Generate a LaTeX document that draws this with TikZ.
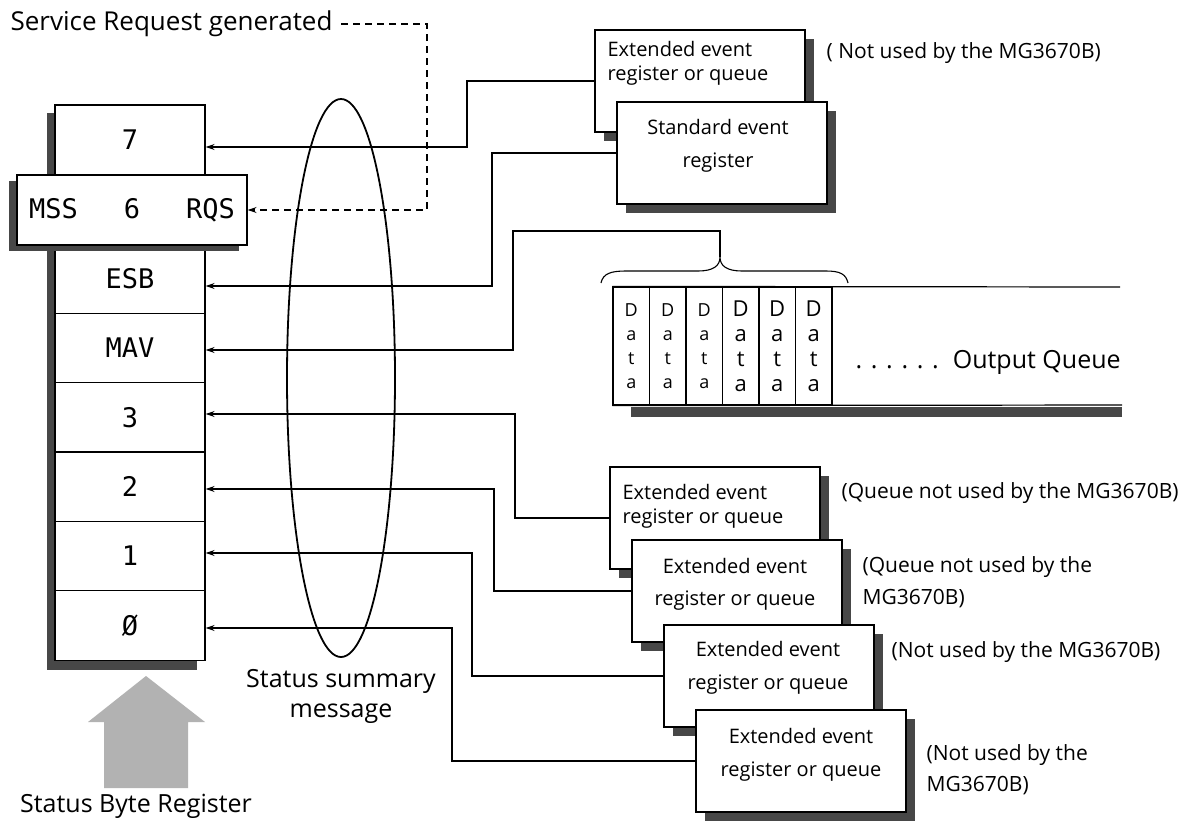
\documentclass[tikz,border=0pt]{standalone}
\usepackage{fontspec}
\setmainfont{Open Sans}
\newfontfamily\monof{DejaVu Sans Mono}
\usetikzlibrary{arrows.meta,shapes.geometric,shadows}
\begin{document}
\begin{tikzpicture}[x=1pt,y=-1pt,line width=1.2pt,
  cell/.style={draw,fill=white,line width=1.3pt,minimum width=150pt,minimum height=69.4pt,inner sep=0pt,font=\monof\fontsize{27}{30}\selectfont},
  ebox/.style={draw,fill=white,line width=1.3pt,minimum width=210pt,minimum height=102pt,inner sep=0pt,
     drop shadow={shadow xshift=9pt,shadow yshift=-9pt,fill=black!72,opacity=1}},
  etext/.style={font=\fontsize{20}{24}\selectfont,inner sep=0pt},
  shad/.style={fill=black!72,draw=none},
  arr/.style={-{Stealth[length=9pt,width=6pt,open]}},
  lab/.style={font=\fontsize{21}{32}\selectfont,align=left,inner sep=0pt,anchor=west},
  big/.style={font=\fontsize{25}{30}\selectfont,inner sep=0pt},
  dcell/.style={draw,fill=white,minimum width=36.5pt,minimum height=118pt,inner sep=0pt,align=center},
]
\useasboundingbox (0,0) rectangle (1186,820);
\fill[white] (0,0) rectangle (1186,820);

% ---- status byte register column
\fill[shad] (47,113) rectangle (197,670);
\node[cell] (r7)  at (130,139.7) {7};
\node[cell] (r6)  at (130,209.1) {};
\node[cell] (esb) at (130,278.5) {ESB};
\node[cell] (mav) at (130,347.9) {MAV};
\node[cell] (r3)  at (130,417.3) {3};
\node[cell] (r2)  at (130,486.7) {2};
\node[cell] (r1)  at (130,556.1) {1};
\node[cell] (r0)  at (130,625.5) {Ø};
\node[draw,fill=white,line width=1.3pt,minimum width=230pt,minimum height=70pt,inner sep=0pt,
  text width=206pt,font=\monof\fontsize{27}{30}\selectfont,
  drop shadow={shadow xshift=-8pt,shadow yshift=-6pt,fill=black!72,opacity=1}]
  (mss) at (132,210) {MSS\hfill 6\hfill RQS};

% ---- labels
\node[big,anchor=west,font=\fontsize{26}{30}\selectfont] (srg) at (10,24) {Service Request generated};
\node[big] (sbr) at (136,806) {Status Byte Register};
\node[big,align=center] (ssm) at (341,696) {Status summary\\message};

% ---- hatched arrow
\fill[black!30] (146,676) -- (205,722) -- (188,722) -- (188,788) -- (104,788) -- (104,722) -- (88,722) -- cycle;

% ---- summary ellipse
\node[draw,ellipse,line width=1.8pt,minimum width=108pt,minimum height=558pt,inner sep=0pt] (ell) at (341,378) {};

% ---- service request dashed line
\draw[arr,dash pattern=on 7pt off 5pt] (srg.east) ++(8,0) -| (427,210) -- (mss.east);

% ---- register boxes
\node[ebox] (e0) at (700,81) {};
\node[etext,anchor=west,align=left] (e0t) at (607,63) {Extended event\\register or queue};
\node[ebox] (std) at (722,153) {};
\node[etext,align=center,font=\fontsize{20}{33}\selectfont] (stdt) at (718,146) {Standard event\\register};
\node[ebox] (e1) at (715,518) {};
\node[etext,anchor=west,align=left] (e1t) at (622,506) {Extended event\\register or queue};
\node[ebox] (e2) at (737,591) {};
\node[etext,align=center,font=\fontsize{20}{32}\selectfont] (e2t) at (735,584) {Extended event\\register or queue};
\node[ebox] (e3) at (769,676) {};
\node[etext,align=center,font=\fontsize{20}{33}\selectfont] (e3t) at (768,668) {Extended event\\register or queue};
\node[ebox] (e4) at (801,761) {};
\node[etext,align=center,font=\fontsize{20}{33}\selectfont] (e4t) at (801,755) {Extended event\\register or queue};

% ---- side notes
\node[lab] (n0) at (826,53) {( Not used by the MG3670B)};
\node[lab] (n1) at (841,493) {(Queue not used by the MG3670B)};
\node[lab] (n2) at (862,582) {(Queue not used by the\\MG3670B)};
\node[lab] (n3) at (891,652) {(Not used by the MG3670B)};
\node[lab,font=\fontsize{21}{31}\selectfont] (n4) at (926,770) {(Not used by the\\MG3670B)};

% ---- output queue
\fill[shad] (631,407) rectangle (1122,417);
\node[dcell,font=\fontsize{18}{24}\selectfont] (d1) at (631.25,346) {D\\a\\t\\a};
\node[dcell,font=\fontsize{18}{24}\selectfont] (d2) at (667.75,346) {D\\a\\t\\a};
\node[dcell,font=\fontsize{18}{24}\selectfont] (d3) at (704.25,346) {D\\a\\t\\a};
\node[dcell,font=\fontsize{22}{25}\selectfont] (d4) at (740.75,346) {D\\a\\t\\a};
\node[dcell,font=\fontsize{22}{25}\selectfont] (d5) at (777.25,346) {D\\a\\t\\a};
\node[dcell,font=\fontsize{22}{25}\selectfont] (d6) at (813.75,346) {D\\a\\t\\a};
\draw (d1.north west) -- (1120,287);
\draw (d1.south west) -- (1122,405);
\node[big,anchor=west] (oq) at (855,362) {. . . . . .\hspace{14pt}Output Queue};

% ---- brace
\coordinate (btip) at (720,257);
\draw[line width=1.1pt] (601,283) .. controls (603,273) and (612,271) .. (626,271) -- (698,271)
  .. controls (713,271) and (720,266) .. (btip)
  .. controls (720,266) and (727,271) .. (742,271) -- (826,271)
  .. controls (840,271) and (846,274) .. (848,283);

% ---- connectors
\draw[arr] (e0.west) -| (467,147) -- (r7.east |- 0,147);
\draw[arr] (std.west) -| (492,286) -- (esb.east |- 0,286);
\draw[arr] (btip) |- (513,231) |- (mav.east |- 0,350);
\draw[arr] (e1.west) -| (515,414) -- (r3.east |- 0,414);
\draw[arr] (e2.west) -| (494,489) -- (r2.east |- 0,489);
\draw[arr] (e3.west) -| (472,553) -- (r1.east |- 0,553);
\draw[arr] (e4.west) -| (452,628) -- (r0.east |- 0,628);
\end{tikzpicture}
\end{document}
